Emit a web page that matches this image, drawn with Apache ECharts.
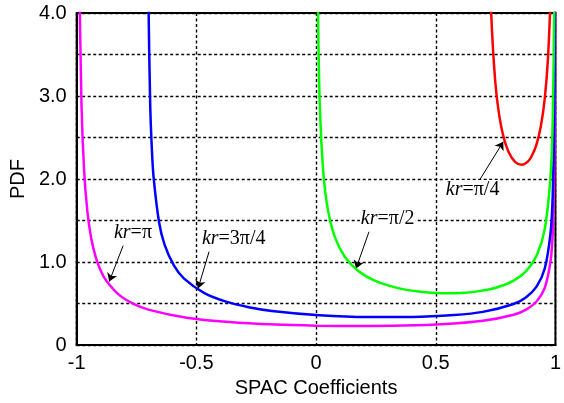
<!DOCTYPE html>
<html><head><meta charset="utf-8">
<script src="https://cdn.jsdelivr.net/npm/echarts/dist/echarts.min.js"></script>
<style>html,body{margin:0;padding:0;background:#fff}#c{width:564px;height:403px}</style>
</head><body><div id="c"></div>
<script>
// Data (x = SPAC coefficient, y = PDF)
const krPiX = [-0.99281,-0.98877,-0.98007,-0.96891,-0.95534,-0.93937,-0.92106,-0.90045,-0.87758,-0.82534,-0.76484,-0.69671,-0.54030,-0.36236,-0.16997,0,0.16997,0.36236,0.54030,0.69671,0.82534,0.87758,0.92106,0.95534,0.98007,0.98877,0.99500,0.99755,0.99875,0.99920];
const krPiY = [6.184,4.441,2.905,2.095,1.608,1.288,1.066,0.903,0.781,0.611,0.500,0.424,0.329,0.277,0.247,0.234,0.230,0.235,0.254,0.292,0.366,0.428,0.525,0.689,1.022,1.358,2.031,2.898,4.055,5.068];

const kr3Pi4X = [-0.70357,-0.70001,-0.69283,-0.68558,-0.67827,-0.65592,-0.63299,-0.59350,-0.55254,-0.46656,-0.37593,-0.28154,-0.18434,0.01461,0.21297,0.40284,0.57665,0.69671,0.82534,0.87758,0.92106,0.95534,0.98007,0.98877,0.99500,0.99755,0.99875];
const kr3Pi4Y = [5.839,4.111,2.882,2.333,2.004,1.480,1.211,0.956,0.804,0.626,0.523,0.457,0.412,0.360,0.338,0.339,0.362,0.400,0.495,0.577,0.704,0.922,1.365,1.812,2.709,3.865,5.407];

const krPi2X = [0.005,0.008,0.015,0.030,0.04998,0.07991,0.11971,0.17903,0.24740,0.34290,0.43497,0.52269,0.60519,0.68164,0.75128,0.82534,0.87758,0.92106,0.95534,0.98007,0.98877,0.99500,0.99680];
const krPi2Y = [5.084,4.021,2.940,2.085,1.621,1.291,1.065,0.886,0.773,0.686,0.642,0.625,0.628,0.650,0.691,0.777,0.892,1.076,1.397,2.057,2.724,4.068,5.078];

const krPi4X = [0.72111,0.72800,0.73482,0.74824,0.76135,0.78046,0.80484,0.83349,0.86007,0.88449,0.90045,0.92106,0.93937,0.95534,0.96891,0.98007,0.98384];
const krPi4Y = [5.217,4.319,3.793,3.187,2.843,2.540,2.324,2.201,2.172,2.210,2.274,2.419,2.641,2.968,3.456,4.219,4.651];

const xTickLabels = ['-1','-0.5','0','0.5','1'];
const yTickLabels = ['0','','1.0','','2.0','','3.0','','4.0'];

const seriesNames = ['kr=π','kr=3π/4','kr=π/2','kr=π/4'];
const labelTails = ['=π','=3π/4','=π/2','=π/4'];
const colors = ['#ff00ff','#0000ff','#00ff00','#ff0000'];

// annotation anchors in data coordinates
const labelAt = [[-0.765,1.353],[-0.344,1.281],[0.299,1.521],[0.654,1.868]];
const arrowFrom = [[-0.806,1.198],[-0.447,1.126],[0.221,1.365],[0.678,1.964]];
const arrowTo = [[-0.864,0.766],[-0.493,0.683],[0.167,0.922],[0.782,2.45]];

function zip(xs, ys){ return xs.map((x,i)=>[x, ys[i]]); }
const allX = [krPiX, kr3Pi4X, krPi2X, krPi4X];
const allY = [krPiY, kr3Pi4Y, krPi2Y, krPi4Y];

const chart = echarts.init(document.getElementById('c'), null, {renderer:'canvas'});
const font = 'Liberation Sans, Arial, sans-serif';
const serif = 'Liberation Serif, Times New Roman, serif';
const grid = {type:[3,2.5], color:'#000', width:1.4};

const series = allX.map((xs, i) => ({
  name: seriesNames[i],
  type: 'line',
  data: zip(xs, allY[i]),
  showSymbol: false,
  smooth: 0.25,
  clip: true,
  lineStyle: {color: colors[i], width: 2.5},
  itemStyle: {color: colors[i]},
  z: 3 + i,
  markLine: {
    silent: true, symbol: ['none','arrow'], symbolSize: 8,
    label: {show:false},
    lineStyle: {color:'#000', width:1, type:'solid'},
    data: [[{coord: arrowFrom[i]}, {coord: arrowTo[i]}]]
  },
  markPoint: {
    silent: true, symbol: 'rect', symbolSize: 1,
    itemStyle: {color:'rgba(0,0,0,0)'},
    label: {
      show: true, position: 'inside',
      formatter: '{i|kr}{n|' + labelTails[i] + '}',
      backgroundColor: '#fff', padding: [0,1],
      rich: {
        i: {fontFamily: serif, fontStyle:'italic', fontSize:20, color:'#000'},
        n: {fontFamily: serif, fontSize:20, color:'#000'}
      }
    },
    data: [{coord: labelAt[i], value: 0}]
  }
}));

chart.setOption({
  animation: false,
  backgroundColor: '#fff',
  grid: {left:75, right:4, top:13, bottom:56, show:true, borderColor:'#000', borderWidth:2, backgroundColor:'transparent'},
  xAxis: {
    type:'value', min:-1, max:1, interval:0.5,
    name:'SPAC Coefficients', nameLocation:'middle', nameGap:30,
    nameTextStyle:{fontFamily:font, fontSize:20, color:'#000'},
    axisLine:{show:true, onZero:false, lineStyle:{color:'#000', width:2}},
    axisTick:{show:false},
    splitLine:{show:true, lineStyle:grid},
    axisLabel:{fontFamily:font, fontSize:20, color:'#000', margin:8, showMinLabel:true, showMaxLabel:true,
      formatter: v => xTickLabels[Math.round((v+1)/0.5)]}
  },
  yAxis: {
    type:'value', min:0, max:4, interval:0.5,
    name:'PDF', nameLocation:'middle', nameGap:45,
    nameTextStyle:{fontFamily:font, fontSize:20, color:'#000'},
    axisLine:{show:true, onZero:false, lineStyle:{color:'#000', width:2}},
    axisTick:{show:false},
    splitLine:{show:true, lineStyle:grid},
    axisLabel:{fontFamily:font, fontSize:20, color:'#000', margin:10, showMinLabel:true, showMaxLabel:true,
      formatter: v => yTickLabels[Math.round(v/0.5)]}
  },
  series: series
});
</script></body></html>
